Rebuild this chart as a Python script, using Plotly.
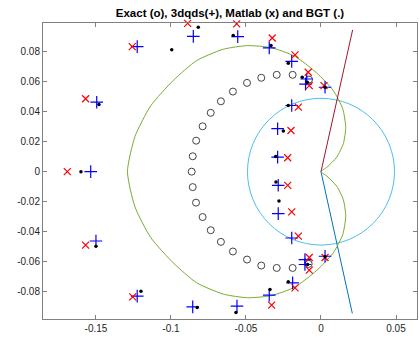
import plotly.graph_objects as go

# ---- data ----
exact_re = [-0.0862, -0.0855, -0.0832, -0.0789, -0.0735, -0.0667, -0.0587, -0.0493, -0.0398, -0.0295, -0.0189, -0.0080,
            -0.0855, -0.0833, -0.0789, -0.0735, -0.0667, -0.0587, -0.0493, -0.0398, -0.0295, -0.0189, -0.0082]
exact_im = [0.0, 0.0103, 0.0207, 0.0303, 0.0393, 0.0470, 0.0535, 0.0593, 0.0627, 0.0647, 0.0647, 0.0615,
            -0.0103, -0.0207, -0.0303, -0.0391, -0.0469, -0.0533, -0.0587, -0.0627, -0.0643, -0.0643, -0.0616]

qds_re = [-0.1225, -0.1495, -0.0851, -0.0555, -0.0345, -0.0195, -0.0095, -0.0103, 0.0027, -0.0195, -0.0289, -0.0289,
          -0.1535,
          -0.1500, -0.1225, -0.0855, -0.0560, -0.0345, -0.0189, -0.0107, -0.0107, 0.0027, -0.0195, -0.0285, -0.0285]
qds_im = [0.0835, 0.0464, 0.0904, 0.0902, 0.0827, 0.0737, 0.0619, 0.0585, 0.0564, 0.0442, 0.0287, 0.0097,
          0.0,
          -0.0463, -0.0831, -0.0903, -0.0898, -0.0825, -0.0743, -0.0620, -0.0587, -0.0565, -0.0443, -0.0280, -0.0091]

matlab_re = [-0.1258, -0.1569, -0.0889, -0.0562, -0.0325, -0.0173, -0.0085, -0.0078, 0.0020, -0.0151, -0.0200, -0.0222,
             -0.1691,
             -0.1569, -0.1255, -0.0891, -0.0562, -0.0329, -0.0173, -0.0078, -0.0078, 0.0027, -0.0151, -0.0195, -0.0222]
matlab_im = [0.0835, 0.0487, 0.0991, 0.0987, 0.0893, 0.0780, 0.0664, 0.0575, 0.0575, 0.0431, 0.0275, 0.0093,
             0.0,
             -0.0491, -0.0836, -0.0991, -0.0987, -0.0891, -0.0776, -0.0658, -0.0573, -0.0573, -0.0431, -0.0269, -0.0091]

bgt_re = [-0.1480, -0.0995, -0.0818, -0.0585, -0.0333, -0.0218, -0.0125, -0.0091, 0.0027, -0.0218, -0.0251, -0.0302,
          -0.1600,
          -0.1500, -0.1200, -0.0825, -0.0567, -0.0340, -0.0218, -0.0089, 0.0027, -0.0280, -0.0300]
bgt_im = [0.0449, 0.0815, 0.0964, 0.0909, 0.0842, 0.0724, 0.0631, 0.0597, 0.0564, 0.0442, 0.0271, 0.0102,
          0.0,
          -0.0498, -0.0798, -0.0907, -0.0941, -0.0787, -0.0736, -0.0620, -0.0568, -0.0196, -0.0069]

green_re = [0.0, 0.0040, 0.0105, 0.0149, 0.0165, 0.0145, 0.0082, -0.0029, -0.0173, -0.0330, -0.0490, -0.0650,
            -0.0829, -0.0985, -0.1135, -0.1240, -0.1290,
            -0.1240, -0.1135, -0.0985, -0.0829, -0.0650, -0.0490,
            -0.0330, -0.0173, -0.0029, 0.0082, 0.0145, 0.0165, 0.0149, 0.0105, 0.0040, 0.0]
green_im = [0.0, 0.0030, 0.0097, 0.0187, 0.0297, 0.0420, 0.0542, 0.0660, 0.0770, 0.0828, 0.0842, 0.0818,
            0.0742, 0.0609, 0.0440, 0.0235, 0.0,
            -0.0235, -0.0440, -0.0609, -0.0742, -0.0818, -0.0842,
            -0.0828, -0.0770, -0.0660, -0.0542, -0.0420, -0.0297, -0.0187, -0.0097, -0.0030, 0.0]

cyan_center = (0.0, 0.0)
cyan_radius = 0.049

ray_up_re = [0.0, 0.0211]
ray_up_im = [0.0, 0.0947]
ray_down_re = [0.0, 0.0209]
ray_down_im = [0.0, -0.0947]

xtick_vals = [-0.15, -0.1, -0.05, 0, 0.05]
xtick_text = ["-0.15", "-0.1", "-0.05", "0", "0.05"]
ytick_vals = [-0.08, -0.06, -0.04, -0.02, 0, 0.02, 0.04, 0.06, 0.08]
ytick_text = ["-0.08", "-0.06", "-0.04", "-0.02", "0", "0.02", "0.04", "0.06", "0.08"]

# ---- figure ----
fig = go.Figure()

fig.add_shape(type="circle", xref="x", yref="y",
              x0=cyan_center[0] - cyan_radius, x1=cyan_center[0] + cyan_radius,
              y0=cyan_center[1] - cyan_radius, y1=cyan_center[1] + cyan_radius,
              line=dict(color="#4DBEEE", width=1), layer="below")

fig.add_trace(go.Scatter(x=ray_down_re, y=ray_down_im, mode="lines",
                         line=dict(color="#0072BD", width=1)))
fig.add_trace(go.Scatter(x=green_re, y=green_im, mode="lines",
                         line=dict(color="#77AC30", width=1, shape="spline", smoothing=0.6)))
fig.add_trace(go.Scatter(x=ray_up_re, y=ray_up_im, mode="lines",
                         line=dict(color="#A2142F", width=1)))

fig.add_trace(go.Scatter(x=exact_re, y=exact_im, mode="markers", cliponaxis=False,
                         marker=dict(symbol="circle-open", size=7, color="#444444", line=dict(width=1))))
fig.add_trace(go.Scatter(x=qds_re, y=qds_im, mode="markers", cliponaxis=False,
                         marker=dict(symbol="cross-thin-open", size=9, color="#0000FF", line=dict(width=1.2, color="#0000FF"))))
fig.add_trace(go.Scatter(x=matlab_re, y=matlab_im, mode="markers", cliponaxis=False,
                         marker=dict(symbol="x-thin-open", size=7, color="#FF0000", line=dict(width=1.2, color="#FF0000"))))
fig.add_trace(go.Scatter(x=bgt_re, y=bgt_im, mode="markers", cliponaxis=False,
                         marker=dict(symbol="circle", size=3.5, color="#000000", line=dict(width=0))))

axis_common = dict(showgrid=False, zeroline=False, showline=True, linecolor="#808080", linewidth=1,
                   mirror="ticks", ticks="inside", ticklen=4, tickcolor="#808080", tickwidth=1,
                   automargin=False,
                   tickfont=dict(family="Liberation Sans, Arial, sans-serif", size=10, color="#262626"))

fig.update_layout(
    width=419, height=342,
    margin=dict(l=43, r=2, t=23, b=23, autoexpand=False),
    paper_bgcolor="white", plot_bgcolor="white",
    showlegend=False,
    hovermode=False,
    title=dict(text="<b>Exact (o), 3dqds(+), Matlab (x) and BGT (.)</b>",
               xref="paper", x=0.5, xanchor="center",
               yref="container", y=0.963, yanchor="middle",
               font=dict(family="Liberation Sans, Arial, sans-serif", size=11.5, color="#000000")),
    xaxis=dict(range=[-0.1853, 0.0640], tickvals=xtick_vals, ticktext=xtick_text, **axis_common),
    yaxis=dict(range=[-0.0984, 0.0993], tickvals=ytick_vals, ticktext=ytick_text, **axis_common),
)

fig.write_html("out.html", config={"displayModeBar": False, "staticPlot": True},
               post_script="document.body.style.margin='0';document.body.style.overflow='hidden';")
